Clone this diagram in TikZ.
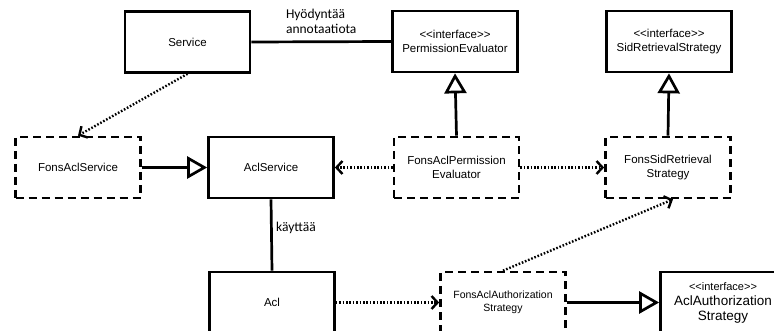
\documentclass[tikz,border=0pt]{standalone}
\usepackage{fontspec}
\setmainfont{Liberation Sans}
\newfontfamily\notefont{Carlito}
\usetikzlibrary{arrows.meta,positioning}
\newcommand{\iface}{<{}<interface>{}>}

\begin{document}
\begin{tikzpicture}[x=1pt, y=-1pt,
  every node/.style={font=\fontsize{11.5}{13.5}\selectfont},
  cls/.style={draw, line width=2.7pt, minimum width=125pt, minimum height=61pt, align=center, inner sep=2pt},
  impl/.style={cls, dash pattern=on 8pt off 5pt},
  gen/.style={line width=2.7pt, -{Triangle[open, length=20pt, width=22pt, fill=white]}},
  dep/.style={line width=2.4pt, dash pattern=on 1.6pt off 1.8pt, -{Straight Barb[length=6pt, width=13pt]}},
  assoc/.style={line width=2.7pt},
  note/.style={font=\notefont\fontsize{13.5}{15}\selectfont, align=left}]
	\useasboundingbox (0,0) rectangle (774,331);
	\clip (0,0) rectangle (774,331);
	% top row
	\node[cls] (service) at (187.5,42) {Service};
	\node[cls] (permev) at (455,41.5) {\iface\\PermissionEvaluator};
	\node[cls] (sidrs) at (669,41.5) {\iface\\SidRetrievalStrategy};
	% middle row
	\node[impl] (fonsaclsrv) at (78,167.5) {FonsAclService};
	\node[cls] (aclsrv) at (271,167.5) {AclService};
	\node[impl] (fonspermev) at (456.5,167.5) {FonsAclPermission\\Evaluator};
	\node[impl] (fonssid) at (668,167.5) {FonsSidRetrieval\\Strategy};
	% bottom row
	\node[cls] (acl) at (272,302.5) {Acl};
	\node[impl, font=\fontsize{10.5}{13}\selectfont] (fonsauth) at (503,302.5) {FonsAclAuthorization\\Strategy};
	\node[cls, font=\fontsize{13.5}{15}\selectfont] (aclauth) at (723,302.5) {{\fontsize{11}{13}\selectfont \iface}\\AclAuthorization\\Strategy};
	
	\draw[assoc] (service.east) -- (permev.west) node[note, midway, above=3pt] {Hyödyntää\\annotaatiota};
	\draw[assoc] (aclsrv.south) -- (acl.north) node[note, midway, right, yshift=7pt] {käyttää};
	
	\draw[gen] (fonsaclsrv.east) -- (aclsrv.west);
	\draw[gen] (fonspermev.north) -- (permev.south);
	\draw[gen] (fonssid.north) -- (sidrs.south);
	\draw[gen] (fonsauth.east) -- (aclauth.west);
	
	\draw[dep] (service.south) -- (fonsaclsrv.north);
	\draw[dep] (fonspermev.west) -- (aclsrv.east);
	\draw[dep] (fonspermev.east) -- (fonssid.west);
	\draw[dep] (acl.east) -- (fonsauth.west);
	\draw[dep] (fonsauth.north) -- ([xshift=5pt]fonssid.south);
\end{tikzpicture}
\end{document}
